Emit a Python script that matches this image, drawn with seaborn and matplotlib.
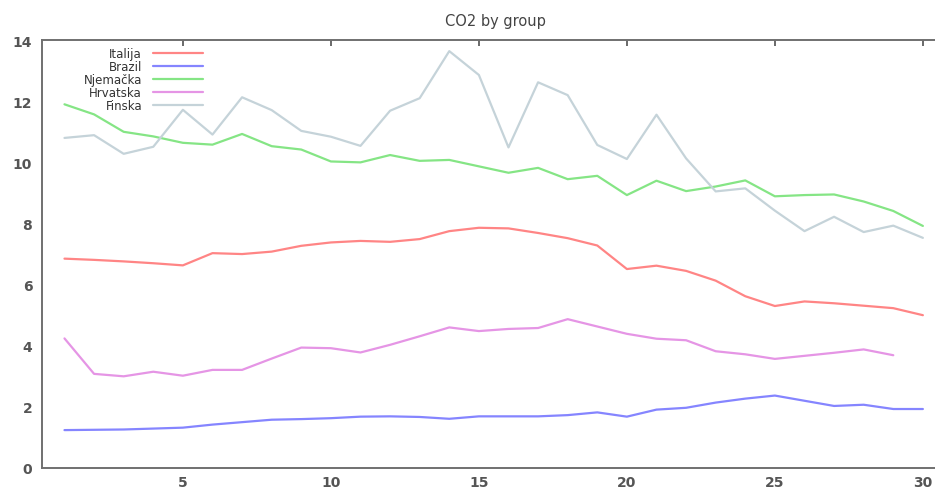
import matplotlib
matplotlib.use("Agg")
import matplotlib.pyplot as plt
import numpy as np
import pandas as pd
import seaborn as sns

# _______________________________________________________________________________________________________________________

years = list(range(1, 31))

italija = [6.85, 6.81, 6.76, 6.70, 6.63, 7.03, 7.00, 7.08, 7.27, 7.38,
           7.43, 7.40, 7.49, 7.75, 7.86, 7.84, 7.69, 7.52, 7.28, 6.51,
           6.62, 6.45, 6.13, 5.62, 5.30, 5.45, 5.39, 5.31, 5.23, 5.00]
brazil = [1.24, 1.25, 1.26, 1.29, 1.32, 1.42, 1.50, 1.58, 1.60, 1.63,
          1.68, 1.69, 1.67, 1.61, 1.69, 1.69, 1.69, 1.73, 1.82, 1.68,
          1.91, 1.97, 2.14, 2.27, 2.37, 2.20, 2.03, 2.07, 1.93, 1.93]
njemacka = [11.90, 11.57, 11.00, 10.85, 10.64, 10.58, 10.93, 10.53, 10.42, 10.03,
            10.00, 10.24, 10.05, 10.08, 9.87, 9.66, 9.82, 9.45, 9.56, 8.93,
            9.40, 9.06, 9.21, 9.41, 8.89, 8.93, 8.95, 8.72, 8.41, 7.92]
hrvatska = [4.24, 3.08, 3.00, 3.15, 3.02, 3.21, 3.21, 3.58, 3.94, 3.92,
            3.78, 4.03, 4.31, 4.60, 4.48, 4.55, 4.58, 4.87, 4.63, 4.39,
            4.23, 4.18, 3.82, 3.72, 3.57, 3.67, 3.77, 3.88, 3.69, np.nan]
finska = [10.80, 10.89, 10.28, 10.51, 11.72, 10.91, 12.13, 11.71, 11.03, 10.84,
          10.54, 11.69, 12.10, 13.64, 12.86, 10.49, 12.62, 12.20, 10.57, 10.11,
          11.56, 10.13, 9.05, 9.15, 8.42, 7.75, 8.22, 7.72, 7.93, 7.53]

groups = ["Italija", "Brazil", "Njemačka", "Hrvatska", "Finska"]
colors = ["#ff8585", "#8585ff", "#85e585", "#e595e5", "#c5d3d9"]

# _______________________________________________________________________________________________________________________


def build_frame():
    """Long-form table for seaborn."""
    series = [italija, brazil, njemacka, hrvatska, finska]
    parts = []
    for name, vals in zip(groups, series):
        parts.append(pd.DataFrame({"year": years, "value": vals, "group": name}))
    return pd.concat(parts, ignore_index=True).dropna()


def plot_co2(df):
    sns.set_style("white")
    plt.rcParams["font.family"] = ["DejaVu Sans"]

    fig = plt.figure(figsize=(9.35, 4.89), dpi=100)
    # right edge of the axes runs past the picture, as in the original crop
    ax = fig.add_axes([0.0449, 0.0409, 0.97, 0.875])

    sns.lineplot(
        data=df,
        x="year",
        y="value",
        hue="group",
        hue_order=groups,
        palette=dict(zip(groups, colors)),
        linewidth=1.6,
        ax=ax,
    )

    ax.set_xlim(0.24, 30.88)
    ax.set_ylim(0, 14)
    ax.set_xticks(range(5, 31, 5))
    ax.set_yticks(range(0, 15, 2))
    ax.set_xlabel("")
    ax.set_ylabel("")

    for sp in ax.spines.values():
        sp.set_color("#707070")
        sp.set_linewidth(1.4)
    ax.spines["right"].set_visible(False)
    ax.tick_params(axis="both", direction="in", color="#505050", width=1.2,
                   labelsize=10, labelcolor="#555555", top=True, right=False)
    ax.tick_params(axis="y", length=6.5, pad=7)
    ax.tick_params(axis="x", length=4, pad=5)
    for t in ax.get_xticklabels() + ax.get_yticklabels():
        t.set_fontweight("bold")

    ax.set_title("CO2 by group", fontsize=10.5, color="#444444", pad=11)

    leg = ax.legend(
        loc="upper right",
        bbox_to_anchor=(0.178, 0.984),
        frameon=False,
        markerfirst=False,
        fontsize=8.5,
        handlelength=4.3,
        handletextpad=0.9,
        labelspacing=0.0,
        borderpad=0,
        borderaxespad=0,
    )
    for col in leg._legend_handle_box.get_children():
        col.align = "right"
    for t in leg.get_texts():
        t.set_color("#333333")
    for line in leg.get_lines():
        line.set_linewidth(1.6)

    fig.savefig("out.png", dpi=100)


plot_co2(build_frame())
